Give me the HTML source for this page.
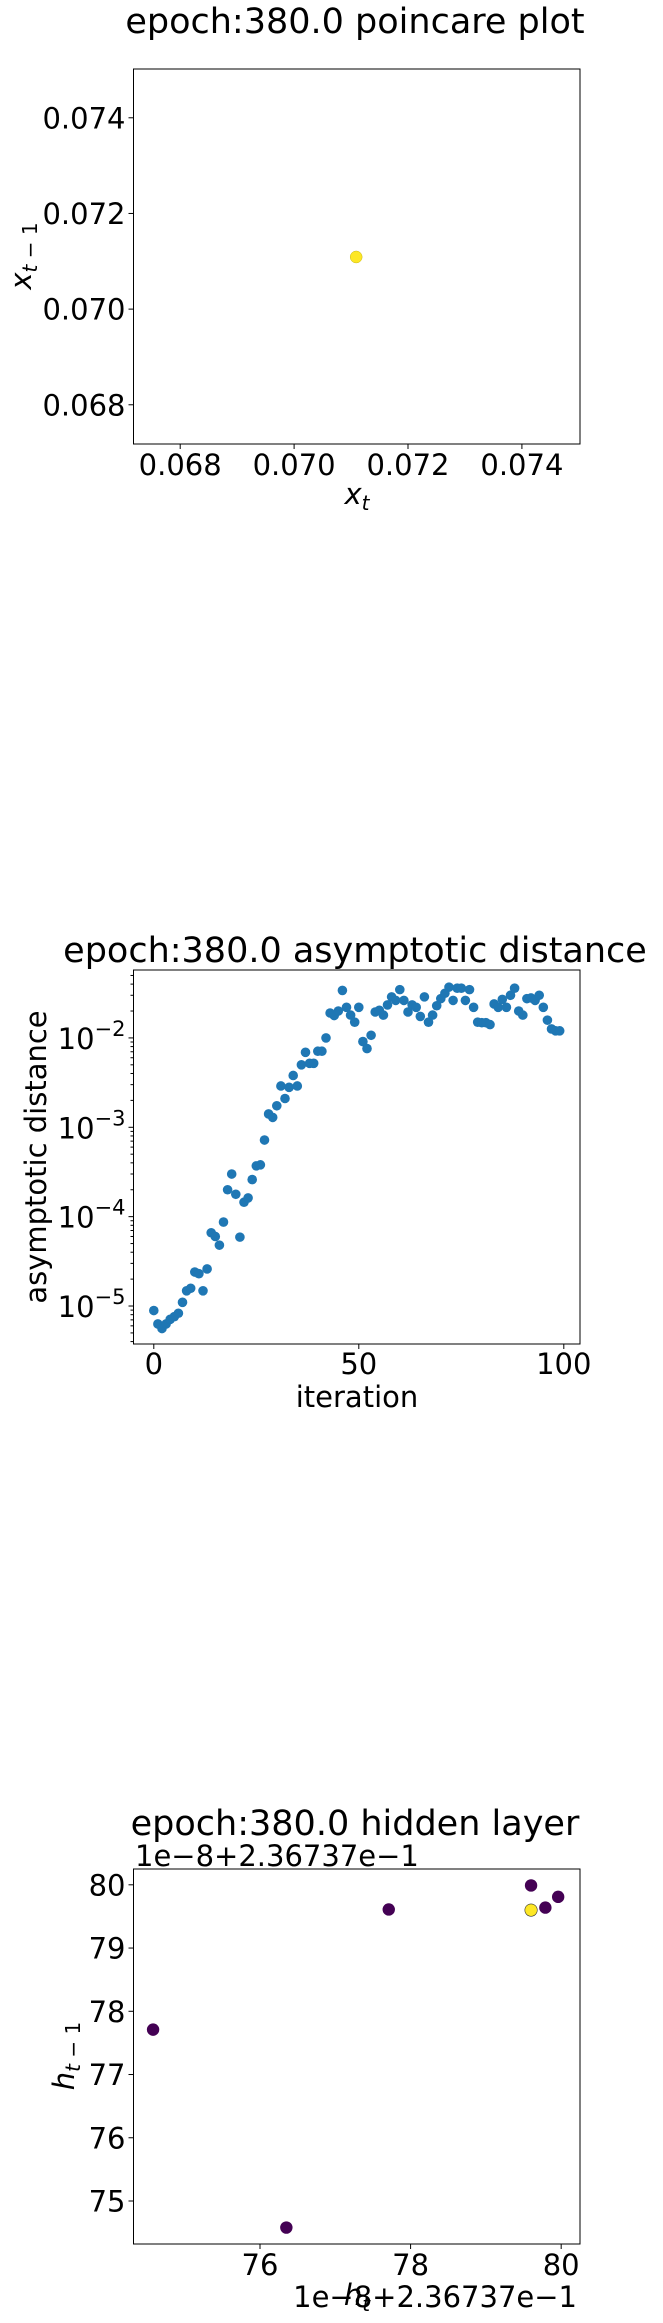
<!DOCTYPE html>
<html><head><meta charset="utf-8"><style>
html,body{margin:0;padding:0;background:#fff;}
svg{display:block;font-family:"DejaVu Sans","Liberation Sans",sans-serif;}
</style></head><body>
<svg id="fig" width="663" height="2323" viewBox="0 0 663 2323" xmlns="http://www.w3.org/2000/svg">
<g id="p1"></g>
<g id="p2"></g>
<g id="p3"></g>
</svg>
<script>
// ---- Plot 1 data ----
const p1Xs = [0.07109];
const p1Ys = [0.07109];
const p1Ticks = [0.068, 0.070, 0.072, 0.074];
const p1TickLabels = ["0.068", "0.070", "0.072", "0.074"];
// ---- Plot 2 data ----
const p2Values = [8.9e-6,6.3e-6,5.6e-6,6.3e-6,7.1e-6,7.6e-6,8.3e-6,1.1e-5,1.48e-5,1.58e-5,
2.4e-5,2.3e-5,1.48e-5,2.6e-5,6.6e-5,6.0e-5,4.8e-5,8.7e-5,2.0e-4,3.0e-4,
1.78e-4,5.9e-5,1.45e-4,1.62e-4,2.6e-4,3.7e-4,3.8e-4,7.2e-4,1.41e-3,1.29e-3,
1.74e-3,2.9e-3,2.1e-3,2.8e-3,3.8e-3,2.9e-3,5.0e-3,6.9e-3,5.2e-3,5.2e-3,
7.1e-3,7.1e-3,0.010,0.019,0.0178,0.020,0.034,0.022,0.018,0.015,
0.022,0.0091,0.0076,0.0107,0.0195,0.0204,0.018,0.0234,0.0288,0.0263,
0.0347,0.0263,0.0195,0.0234,0.022,0.0174,0.0288,0.015,0.018,0.0229,
0.0275,0.0316,0.037,0.0263,0.036,0.036,0.0263,0.0347,0.022,0.015,
0.0148,0.0148,0.0141,0.024,0.022,0.027,0.022,0.030,0.036,0.020,
0.018,0.0275,0.028,0.0263,0.030,0.022,0.0158,0.0126,0.012,0.012];
const p2XTicks = [0, 50, 100];
const p2YTickExps = [-5, -4, -3, -2];
// ---- Plot 3 data ----
const p3Xs = [74.58, 76.35, 77.71, 79.60, 79.79, 79.96, 79.60];
const p3Ys = [77.71, 74.58, 79.61, 79.99, 79.64, 79.81, 79.60];
const p3Colors = ["#440154","#440154","#440154","#440154","#440154","#440154","#fde725"];
const p3Ticks = [75, 76, 77, 78, 79, 80];
const p3XTicks = [76, 78, 80];

const NS = "http://www.w3.org/2000/svg";
function mk(parent, tag, attrs, text){
  const e = document.createElementNS(NS, tag);
  for (const k in attrs) e.setAttribute(k, attrs[k]);
  if (text !== undefined) e.textContent = text;
  parent.appendChild(e);
  return e;
}
const L = 133.5, R = 580;
const FS = 29;

function frame(g, top, bottom){
  const r = mk(g, "rect", {x:L, y:top, width:R-L, height:bottom-top, fill:"none", stroke:"#000", "stroke-width":1});
  
  
}
function xtick(g, x, bottom, label, baseline){
  const t = mk(g, "line", {x1:x, x2:x, y1:bottom, y2:bottom+5, stroke:"#000"});
  
  
  const tl = mk(g, "text", {x:x, y:baseline, "font-size":FS, "text-anchor":"middle"}, label);
  
  
}
function ytick(g, y, label, len){
  const t = mk(g, "line", {x1:L-(len||5), x2:L, y1:y, y2:y, stroke:"#000"});
  
  
  if (label !== null && label !== undefined){
    const tl = mk(g, "text", {x:L-8, y:y+10.5, "font-size":FS, "text-anchor":"end"}, label);
    
    
  }
}
function title(g, y, s){
  const t = mk(g, "text", {x:355, y:y, "font-size":35, "text-anchor":"middle"}, s);
  
  
}

// ===== Plot 1 =====
(function(){
  const g = document.getElementById("p1");
  const top = 69, bottom = 444, lo = 0.06718, hi = 0.07502;
  const sx = v => L + (v-lo)/(hi-lo)*(R-L);
  const sy = v => bottom - (v-lo)/(hi-lo)*(bottom-top);
  title(g, 33, "epoch:380.0 poincare plot");
  frame(g, top, bottom);
  p1Ticks.forEach((v,i)=>{ xtick(g, sx(v), bottom, p1TickLabels[i], 475); ytick(g, sy(v), p1TickLabels[i]); });
  p1Xs.forEach((v,i)=>{
    const c = mk(g, "circle", {cx:sx(v), cy:sy(p1Ys[i]), r:6, fill:"#fde725", stroke:"#c8b820", "stroke-width":0.5});
    
    
  });
  const xl = mk(g, "text", {x:357, y:504, "font-size":FS, "text-anchor":"middle", "font-style":"italic"});
  
  
  xl.innerHTML = 'x<tspan font-size="20" dy="6">t</tspan>';
  const yl = mk(g, "text", {x:0, y:0, "font-size":FS, "text-anchor":"middle", "font-style":"italic", transform:"translate(31,256) rotate(-90)"});
  
  
  yl.innerHTML = 'x<tspan font-size="20" dy="6">t</tspan><tspan font-size="20" font-style="normal"> − 1</tspan>';
})();

// ===== Plot 2 =====
(function(){
  const g = document.getElementById("p2");
  const top = 970, bottom = 1344, xlo = -4.95, xhi = 103.95;
  const yTopLog = -1.24, yBotLog = -5.425;
  const sx = v => L + (v-xlo)/(xhi-xlo)*(R-L);
  const sy = v => top + (yTopLog - Math.log10(v))/(yTopLog-yBotLog)*(bottom-top);
  title(g, 962, "epoch:380.0 asymptotic distance");
  frame(g, top, bottom);
  p2XTicks.forEach(v=>xtick(g, sx(v), bottom, String(v), 1374));
  for (let e=-6; e<=-1; e++){
    for (let m=2; m<=9; m++){
      const y = sy(m*Math.pow(10,e));
      if (y>top && y<bottom) ytick(g, y, null, 3);
    }
  }
  p2YTickExps.forEach(e=>{
    const y = sy(Math.pow(10,e));
    ytick(g, y, null, 5);
    const tl = mk(g, "text", {x:L-8, y:y+11, "font-size":FS, "text-anchor":"end"});
    
    
    tl.innerHTML = '10<tspan font-size="21" dy="-13">−' + (-e) + '</tspan>';
  });
  p2Values.forEach((v,i)=>{
    const c = mk(g, "circle", {cx:sx(i), cy:sy(v), r:4.8, fill:"#1f77b4"});
    
    
  });
  const xl = mk(g, "text", {x:357, y:1407, "font-size":FS, "text-anchor":"middle"}, "iteration");
  
  
  const yl = mk(g, "text", {x:0, y:0, "font-size":FS, "text-anchor":"middle", transform:"translate(46,1157) rotate(-90)"}, "asymptotic distance");
  
  
})();

// ===== Plot 3 =====
(function(){
  const g = document.getElementById("p3");
  const top = 1869, bottom = 2244, lo = 74.32, hi = 80.25;
  const sx = v => L + (v-lo)/(hi-lo)*(R-L);
  const sy = v => bottom - (v-lo)/(hi-lo)*(bottom-top);
  title(g, 1835, "epoch:380.0 hidden layer");
  frame(g, top, bottom);
  p3XTicks.forEach(v=>xtick(g, sx(v), bottom, String(v), 2275));
  p3Ticks.forEach(v=>ytick(g, sy(v), String(v)));
  p3Xs.forEach((v,i)=>{
    const c = mk(g, "circle", {cx:sx(v), cy:sy(p3Ys[i]), r:6.2, fill:p3Colors[i], stroke: i===p3Xs.length-1 ? "#333" : "none", "stroke-width":0.6});
    
    
  });
  const off = mk(g, "text", {x:135, y:1866, "font-size":FS}, "1e−8+2.36737e−1");
  
  
  const xl = mk(g, "text", {x:357, y:2305, "font-size":FS, "text-anchor":"middle", "font-style":"italic"});
  
  
  xl.innerHTML = 'h<tspan font-size="20" dy="6">t</tspan>';
  const off2 = mk(g, "text", {x:577, y:2307, "font-size":FS, "text-anchor":"end"}, "1e−8+2.36737e−1");
  
  
  const yl = mk(g, "text", {x:0, y:0, "font-size":FS, "text-anchor":"middle", "font-style":"italic", transform:"translate(74,2056) rotate(-90)"});
  
  
  yl.innerHTML = 'h<tspan font-size="20" dy="6">t</tspan><tspan font-size="20" font-style="normal"> − 1</tspan>';
})();
</script>
</body></html>
